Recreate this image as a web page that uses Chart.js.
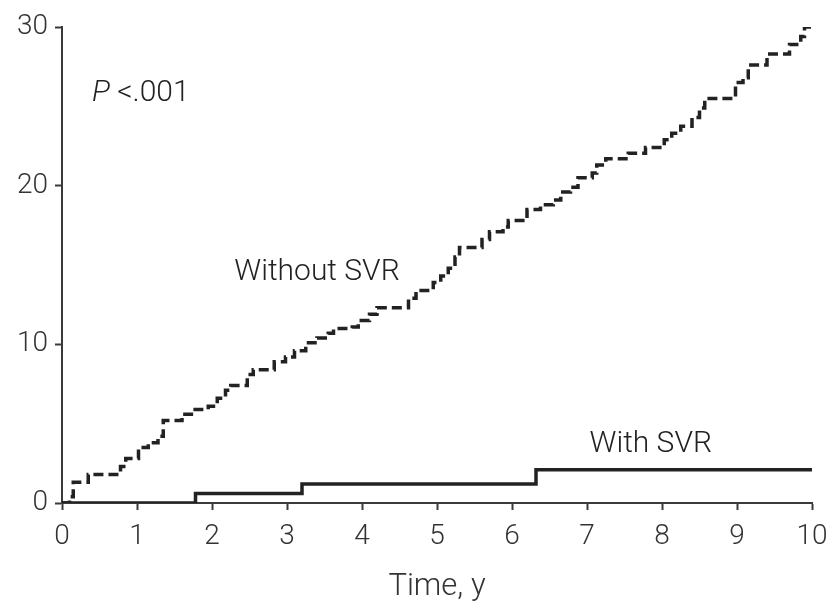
<!DOCTYPE html>
<html>
<head>
<meta charset="utf-8">
<script src="https://cdn.jsdelivr.net/npm/chart.js@4"></script>
<style>
    html, body { margin: 0; padding: 0; background: #fff; }
    #wrap { width: 834px; height: 606px; }
</style>
</head>
<body>
<div id="wrap"><canvas id="incidenceChart" width="834" height="606"></canvas></div>
<script>
// Without SVR: time (y) at which the step happens, and cumulative incidence after it
const withoutTimes = [0, 0.1, 0.15, 0.35, 0.78, 0.85, 1.02, 1.15, 1.28, 1.35, 1.6, 1.75, 1.95, 2.07, 2.18, 2.25,
    2.47, 2.55, 2.83, 2.98, 3.1, 3.25, 3.4, 3.55, 3.62, 3.87, 3.95, 4.1, 4.2, 4.62, 4.72, 4.95, 5.05, 5.15,
    5.24, 5.3, 5.6, 5.7, 5.88, 5.95, 6.2, 6.38, 6.55, 6.65, 6.78, 6.88, 7.07, 7.13, 7.25, 7.55, 7.78, 8.03,
    8.13, 8.25, 8.4, 8.5, 8.57, 8.98, 9.08, 9.15, 9.4, 9.7, 9.85, 9.9, 10];
const withoutValues = [0, 0.4, 1.3, 1.8, 2.3, 2.8, 3.5, 3.8, 4.2, 5.2, 5.6, 5.9, 6.1, 6.6, 7.1, 7.4,
    8.1, 8.4, 8.9, 9.2, 9.6, 10.1, 10.4, 10.7, 11.0, 11.1, 11.5, 11.9, 12.3, 12.9, 13.4, 13.9, 14.3, 14.8,
    15.5, 16.1, 16.6, 17.1, 17.4, 17.8, 18.5, 18.8, 19.1, 19.6, 19.9, 20.5, 20.8, 21.3, 21.7, 22.05, 22.4, 22.9,
    23.3, 23.75, 24.3, 24.9, 25.5, 26.5, 26.8, 27.6, 28.3, 28.9, 29.4, 30.0, 30.0];

// With SVR
const withTimes = [0, 1.78, 3.2, 6.32, 10];
const withValues = [0, 0.6, 1.2, 2.1, 2.1];

const xTicks = [0, 1, 2, 3, 4, 5, 6, 7, 8, 9, 10];
const yTicks = [0, 10, 20, 30];

// text labels placed in data coordinates
const notes = [
    { text: 'Without SVR', x: 3.4, y: 14.55, align: 'center' },
    { text: 'With SVR', x: 7.85, y: 3.7, align: 'center' }
];

const FONT = 'Roboto, "Liberation Sans", sans-serif';
const INK = '#222';
const AXIS = '#3a3a3a';

function toPoints(xs, ys) {
    return xs.map((x, i) => ({ x: x, y: ys[i] }));
}

const notesPlugin = {
    id: 'notes',
    afterDatasetsDraw(chart) {
        const ctx = chart.ctx;
        const xs = chart.scales.x;
        const ys = chart.scales.y;
        ctx.save();
        ctx.fillStyle = INK;
        ctx.textBaseline = 'middle';
        ctx.font = '300 30px ' + FONT;
        notes.forEach(n => {
            ctx.textAlign = n.align;
            ctx.fillText(n.text, xs.getPixelForValue(n.x), ys.getPixelForValue(n.y));
        });
        // P value, italic P
        const px = xs.getPixelForValue(0.4);
        const py = ys.getPixelForValue(25.8);
        ctx.textAlign = 'left';
        ctx.font = 'italic 300 30px ' + FONT;
        ctx.fillText('P', px, py);
        const w = ctx.measureText('P ').width;
        ctx.font = '300 30px ' + FONT;
        ctx.fillText('<.001', px + w, py);
        ctx.restore();
    }
};

function initChart() {
    const ctx = document.getElementById('incidenceChart').getContext('2d');
    return new Chart(ctx, {
        type: 'line',
        data: {
            datasets: [{
                label: 'Without SVR',
                data: toPoints(withoutTimes, withoutValues),
                stepped: true,
                borderColor: INK,
                borderWidth: 3.5,
                borderDash: [10, 5],
                pointRadius: 0,
                fill: false
            }, {
                label: 'With SVR',
                data: toPoints(withTimes, withValues),
                stepped: true,
                borderColor: INK,
                borderWidth: 3.5,
                pointRadius: 0,
                fill: false
            }]
        },
        options: {
            responsive: false,
            animation: false,
            layout: {
                padding: { top: 27, right: 22, left: 0, bottom: 0 }
            },
            scales: {
                x: {
                    type: 'linear',
                    min: 0,
                    max: 10,
                    afterBuildTicks: axis => { axis.ticks = xTicks.map(v => ({ value: v })); },
                    afterFit: axis => {
                        axis.height = 103;
                        axis.paddingLeft = 0;
                        axis.paddingRight = 0;
                    },
                    border: { display: true, color: AXIS, width: 2 },
                    grid: { drawOnChartArea: false, drawTicks: true, tickLength: 7, tickColor: AXIS, tickWidth: 2 },
                    ticks: { color: '#333', padding: 10, font: { family: FONT, size: 28, weight: 300 }, maxRotation: 0 },
                    title: {
                        display: true,
                        text: 'Time, y',
                        color: '#333',
                        font: { family: FONT, size: 31, weight: 300 },
                        padding: { top: 14, bottom: 0 }
                    }
                },
                y: {
                    min: 0,
                    max: 30,
                    afterBuildTicks: axis => { axis.ticks = yTicks.map(v => ({ value: v })); },
                    afterFit: axis => { axis.width = 62; },
                    border: { display: true, color: AXIS, width: 2 },
                    grid: { drawOnChartArea: false, drawTicks: true, tickLength: 7, tickColor: AXIS, tickWidth: 2 },
                    ticks: { color: '#333', padding: 7, font: { family: FONT, size: 28, weight: 300 } }
                }
            },
            plugins: {
                legend: { display: false },
                tooltip: { enabled: false }
            }
        },
        plugins: [notesPlugin]
    });
}

initChart();
</script>
</body>
</html>
